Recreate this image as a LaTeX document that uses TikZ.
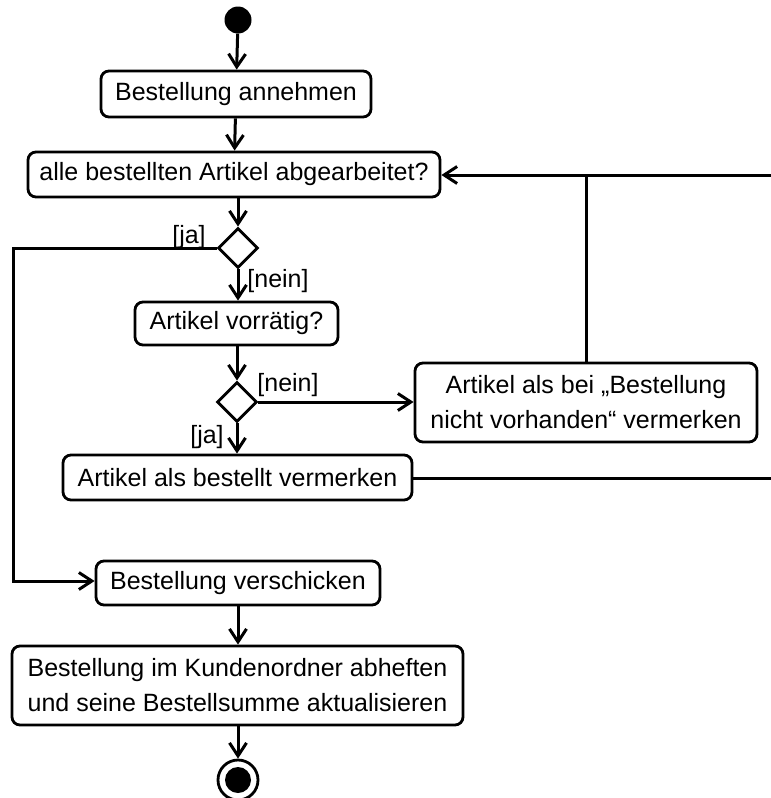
\documentclass[tikz,border=0pt]{standalone}
\usepackage{fontspec}
\setmainfont{Liberation Sans}
\usetikzlibrary{arrows.meta,shapes.geometric}
\begin{document}
\begin{tikzpicture}[x=1pt,y=-1pt,
  every node/.style={font=\fontsize{25}{35}\selectfont},
  act/.style={draw,rounded corners=8pt,line width=2.8pt,align=center,inner sep=0pt},
  dec/.style={draw,diamond,line width=2.8pt,inner sep=0pt,minimum width=40pt,minimum height=40pt},
  flow/.style={line width=3pt},
  arr/.style={flow,-{Straight Barb[length=13pt,width=17pt,line width=3pt]}},
  guard/.style={inner sep=0pt}]
\useasboundingbox (0,0) rectangle (771,798);

% start node
\node[circle,fill=black,minimum size=27pt,inner sep=0pt] (start) at (238,20) {};

% actions
\node[act,minimum width=270pt,minimum height=46pt] (b1) at (236,94) {Bestellung annehmen};
\node[act,minimum width=412pt,minimum height=45pt] (b2) at (234,174.5) {alle bestellten Artikel abgearbeitet?};
\node[dec] (d1) at (238,248) {};
\node[act,minimum width=203pt,minimum height=43pt] (b3) at (236.5,323.5) {Artikel vorrätig?};
\node[dec] (d2) at (237,402) {};
\node[act,minimum width=342pt,minimum height=79pt] (b4) at (586,402.5) {Artikel als bei „Bestellung\\nicht vorhanden“ vermerken};
\node[act,minimum width=349pt,minimum height=45pt] (b5) at (237.5,477.5) {Artikel als bestellt vermerken};
\node[act,minimum width=284pt,minimum height=44pt] (b6) at (238,583) {Bestellung verschicken};
\node[act,minimum width=451pt,minimum height=79pt] (b7) at (237.5,685.5) {Bestellung im Kundenordner abheften\\und seine Bestellsumme aktualisieren};

% final node
\node[circle,draw,line width=2.8pt,minimum size=40pt,inner sep=0pt] (end) at (238,780) {};
\fill (end.center) circle (13pt);

% guards
\node[guard] (g1) at (189,237) {[ja]};
\node[guard] (g2) at (278,281) {[nein]};
\node[guard] (g3) at (288,385) {[nein]};
\node[guard] (g4) at (207,437) {[ja]};

% helper points
\coordinate (L) at (13,248);
\coordinate (R1) at (771,175);
\coordinate (R2) at (771,478);
\coordinate (J) at (b4.north |- R1);

% control flow
\draw[arr] (start) -- (b1);
\draw[arr] (b1) -- (b2);
\draw[arr] (b2.south -| d1) -- (d1.north);
\draw[arr] (d1.south) -- (d1.south |- b3.north);
\draw[arr] (b3.south -| d2) -- (d2.north);
\draw[arr] (d2.east) -- (b4.west |- d2.east);
\draw[arr] (d2.south) -- (d2.south |- b5.north);
\draw[arr] (d1.west) -- (L) |- ([yshift=2pt]b6.west);
\draw[arr] (b6.south -| end) -- (b7.north -| end);
\draw[arr] (b7.south -| end) -- (end.north);
\draw[arr] (R1) -- (b2.east |- R1);
\draw[flow] (b4.north) -- (J);
\draw[flow] (b5.east |- R2) -- (R2);
\end{tikzpicture}
\end{document}
